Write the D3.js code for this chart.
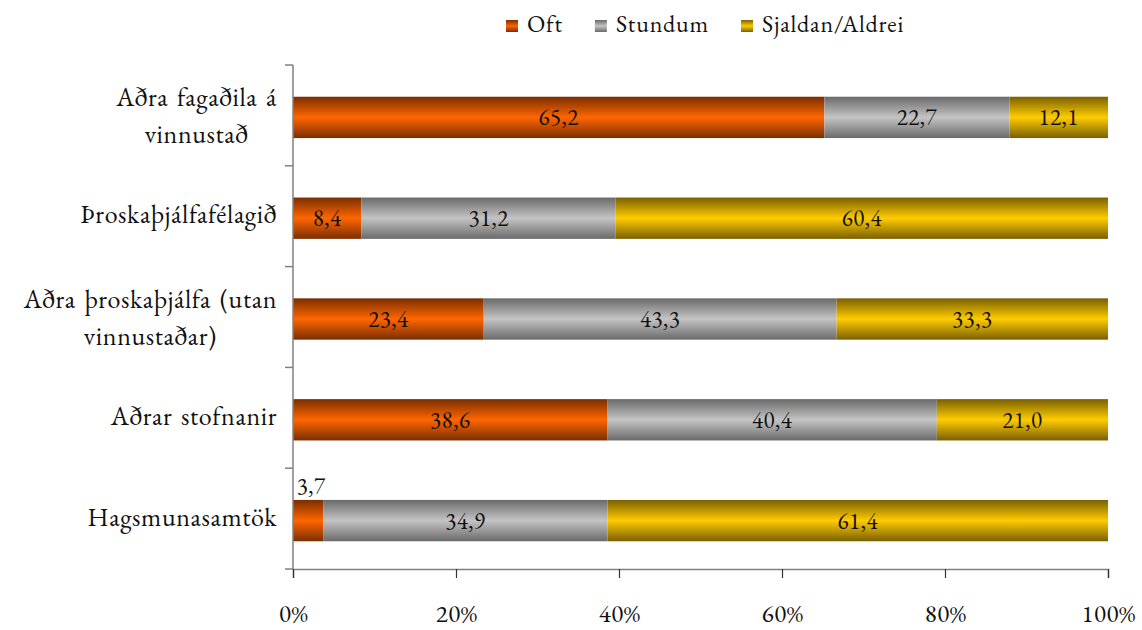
<!DOCTYPE html>
<html>
<head>
<meta charset="utf-8">
<script src="https://cdn.jsdelivr.net/npm/d3@7"></script>
<style>
  body { margin: 0; background: #fff; }
  #chart text { font-family: "EB Garamond", "Liberation Serif", serif; }
</style>
</head>
<body>
<svg id="chart" width="1142" height="630"></svg>
<script>
// Categories (top to bottom), with line breaks for wrapped labels
const categories = [
  ["Aðra fagaðila á", "vinnustað"],
  ["Þroskaþjálfafélagið"],
  ["Aðra þroskaþjálfa (utan", "vinnustaðar)"],
  ["Aðrar stofnanir"],
  ["Hagsmunasamtök"]
];
const seriesNames = ["Oft", "Stundum", "Sjaldan/Aldrei"];
const oft = [65.2, 8.4, 23.4, 38.6, 3.7];
const stundum = [22.7, 31.2, 43.3, 40.4, 34.9];
const sjaldan = [12.1, 60.4, 33.3, 21.0, 61.4];
const xTicks = [0, 20, 40, 60, 80, 100];

const FONT = '"EB Garamond", "Liberation Serif", serif';

const gradStops = [
  { edge: "#7a2e00", mid: "#ff6600" },
  { edge: "#6a6a6a", mid: "#c4c4c4" },
  { edge: "#7a6000", mid: "#ffcc00" }
];

const svg = d3.select("#chart");
const margin = { left: 293, right: 34, top: 65, bottom: 61 };
const W = 1142, H = 630;
const x = d3.scaleLinear().domain([0, 100]).range([margin.left, W - margin.right]);
const y = d3.scaleBand().domain(d3.range(categories.length))
  .range([margin.top + 2, H - margin.bottom + 2]).paddingInner(0.59).paddingOuter(0.295);
const yOuter = d3.scaleBand().domain(d3.range(categories.length))
  .range([margin.top, H - margin.bottom]);

// vertical gradients for the bar fills
const defs = svg.append("defs");
gradStops.forEach((g, i) => {
  const lg = defs.append("linearGradient").attr("id", "g" + i)
    .attr("x1", 0).attr("y1", 0).attr("x2", 0).attr("y2", 1);
  lg.append("stop").attr("offset", "0%").attr("stop-color", g.edge);
  lg.append("stop").attr("offset", "50%").attr("stop-color", g.mid);
  lg.append("stop").attr("offset", "100%").attr("stop-color", g.edge);
});

const series = [oft, stundum, sjaldan];
const stackData = categories.map((c, i) => {
  let acc = 0;
  return series.map((s, k) => {
    const seg = { i, k, x0: acc, x1: acc + s[i], v: s[i] };
    acc += s[i];
    return seg;
  });
});

const bars = svg.append("g");
stackData.forEach(row => {
  row.forEach(seg => {
    bars.append("rect")
      .attr("x", x(seg.x0))
      .attr("y", y(seg.i))
      .attr("width", x(seg.x1) - x(seg.x0))
      .attr("height", y.bandwidth())
      .attr("fill", `url(#g${seg.k})`);
    const small = seg.v < 5;
    bars.append("text")
      .attr("x", (x(seg.x0) + x(seg.x1)) / 2 + (small ? 3 : 0))
      .attr("y", small ? y(seg.i) - 6 : y(seg.i) + y.bandwidth() / 2 + 8)
      .attr("text-anchor", "middle")
      .attr("fill", "#111")
      .attr("font-family", FONT)
      .style("font-size", "23px")
      .style("letter-spacing", "0.5px")
      .text(seg.v.toFixed(1).replace(".", ","));
  });
});

// y axis line and category ticks
const axisColor = "#808080";
svg.append("line")
  .attr("x1", margin.left).attr("x2", margin.left)
  .attr("y1", margin.top).attr("y2", H - margin.bottom)
  .attr("stroke", axisColor).attr("stroke-width", 1.5);
d3.range(categories.length + 1).forEach(i => {
  const yy = i < categories.length ? yOuter(i) : H - margin.bottom;
  svg.append("line")
    .attr("x1", margin.left - 8).attr("x2", margin.left)
    .attr("y1", yy).attr("y2", yy)
    .attr("stroke", axisColor).attr("stroke-width", 1.5);
});

// x axis
const xAxis = d3.axisBottom(x).tickValues(xTicks).tickFormat(d => d + "%").tickSize(9).tickPadding(26);
const gx = svg.append("g").attr("transform", `translate(0,${H - margin.bottom})`).call(xAxis);
gx.attr("font-family", FONT);
gx.select(".domain").attr("stroke", axisColor).attr("stroke-width", 1.5);
gx.selectAll(".tick line").attr("stroke", "#333").attr("stroke-width", 1.2);
gx.selectAll(".tick text").style("font-size", "25px").style("letter-spacing", "0.5px").attr("fill", "#111");

// category labels: centred block, right edge against the axis
categories.forEach((lines, i) => {
  const cy = yOuter(i) + yOuter.bandwidth() / 2;
  const lh = 37;
  const t = svg.append("text")
    .attr("text-anchor", "middle")
    .attr("fill", "#111")
    .attr("font-family", FONT)
    .style("font-size", "26px")
    .style("letter-spacing", "0.6px")
    .style("word-spacing", "3px");
  lines.forEach((ln, j) => {
    const off = lines.length > 1 ? (j - 0.5) * lh + 9 : 7;
    t.append("tspan").attr("y", cy + off).text(ln);
  });
  const tspans = t.selectAll("tspan").nodes();
  const maxW = d3.max(tspans, n => n.getComputedTextLength());
  const cx = 277 - maxW / 2;
  t.selectAll("tspan").attr("x", cx);
});

// legend, laid out left to right
const legend = svg.append("g");
let lx = 506;
seriesNames.forEach((n, k) => {
  legend.append("rect")
    .attr("x", lx).attr("y", 20).attr("width", 12).attr("height", 12)
    .attr("fill", `url(#g${k})`);
  const t = legend.append("text")
    .attr("x", lx + 21).attr("y", 32)
    .attr("fill", "#111")
    .attr("font-family", FONT)
    .style("font-size", "24px")
    .style("letter-spacing", "0.8px")
    .text(n);
  lx += 21 + t.node().getComputedTextLength() + 32;
});
</script>
</body>
</html>
